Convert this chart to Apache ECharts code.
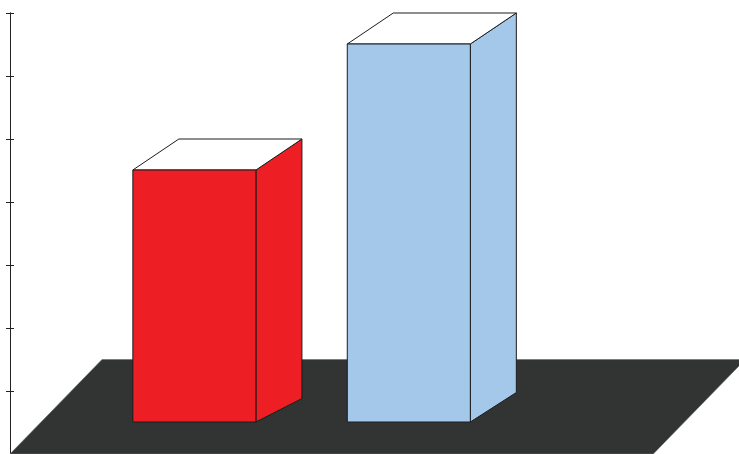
<!DOCTYPE html>
<html>
<head>
<meta charset="utf-8">
<script src="https://cdn.jsdelivr.net/npm/echarts@6/dist/echarts.min.js"></script>
<style>
  html, body { margin: 0; padding: 0; background: #ffffff; }
  #chart { width: 739px; height: 454px; }
</style>
</head>
<body>
<div id="chart"></div>
<script>
// ---- data ----
const categories = ['Series 1', 'Series 2'];
const values = [5, 7];
const yMin = 0;
const yMax = 7;
const yInterval = 1;
const floorDepthValue = 1.5;   // floor depth expressed on the value axis
const floorWidthUnits = 3;     // floor width on the hidden x scale

// ---- style / layout constants ----
const barColors = ['#ED1F24', '#A3C8EA'];
const BAR_START = 0.86;   // x offset of first bar centre on the hidden x scale
const BAR_W = 0.574;      // bar width on the hidden x scale
const DEPTH_DX = 46;      // px, bar depth to the right
const TOP_DROP = 31;      // px, front top below back top
const FRONT_LIFT = 32;    // px, front bottom above the floor front edge
const BACK_BOTTOM_RISE = [23.5, 29.5]; // px
const FLOOR_DX = 92;      // px, floor slant
const EDGE = '#1c1c1c';

const chart = echarts.init(document.getElementById('chart'), null, { renderer: 'canvas' });

const barData = values.map((v, i) => [i, v]);

function renderFloor(params, api) {
  const fl = api.coord([0, 0]);
  const fr = api.coord([floorWidthUnits, 0]);
  const br = api.coord([floorWidthUnits, floorDepthValue]);
  const bl = api.coord([0, floorDepthValue]);
  return {
    type: 'polygon',
    shape: { points: [fl, fr, [br[0] + FLOOR_DX, br[1]], [bl[0] + FLOOR_DX, bl[1]]] },
    style: { fill: '#323433', stroke: '#6a6a6a', lineWidth: 0.6 }
  };
}

function renderBar(params, api) {
  const i = api.value(0);
  const v = api.value(1);
  const x = i + BAR_START;
  const c = api.coord([x, v]);
  const base = api.coord([x, 0]);
  const w = api.size([BAR_W, 0])[0];
  const L = c[0] - w / 2, R = c[0] + w / 2;
  const backTop = c[1];
  const frontTop = c[1] + TOP_DROP;
  const frontBottom = base[1] - FRONT_LIFT;
  const backBottom = frontBottom - BACK_BOTTOM_RISE[i];
  const color = barColors[i];
  const st = (fill) => ({ fill: fill, stroke: EDGE, lineWidth: 1, lineJoin: 'round' });
  return {
    type: 'group',
    children: [
      { type: 'polygon', shape: { points: [[R, frontTop], [R + DEPTH_DX, backTop], [R + DEPTH_DX, backBottom], [R, frontBottom]] }, style: st(color) },
      { type: 'polygon', shape: { points: [[L, frontTop], [L + DEPTH_DX, backTop], [R + DEPTH_DX, backTop], [R, frontTop]] }, style: st('#ffffff') },
      { type: 'polygon', shape: { points: [[L, frontTop], [R, frontTop], [R, frontBottom], [L, frontBottom]] }, style: st(color) }
    ]
  };
}

const yCommon = {
  type: 'value',
  min: yMin,
  max: yMax,
  interval: yInterval,
  position: 'left',
  axisLabel: { show: false },
  splitLine: { show: false },
  axisLine: { show: true, lineStyle: { color: '#222', width: 1 } }
};

chart.setOption({
  animation: false,
  backgroundColor: '#ffffff',
  grid: { left: 10, right: 0, top: 13, height: 442 },
  xAxis: { type: 'value', min: 0, max: 3.4, show: false },
  yAxis: [
    Object.assign({}, yCommon, { axisTick: { show: true, inside: false, length: 4, lineStyle: { color: '#222' } } }),
    Object.assign({}, yCommon, { axisTick: { show: true, inside: true, length: 4, lineStyle: { color: '#222' } } })
  ],
  series: [
    { type: 'custom', name: 'floor', data: [[0, 0]], renderItem: renderFloor, silent: true, z: 1, clip: false },
    { type: 'custom', name: 'bars', data: barData, renderItem: renderBar, z: 2, clip: false,
      encode: { x: 0, y: 1 } }
  ]
});
</script>
</body>
</html>
